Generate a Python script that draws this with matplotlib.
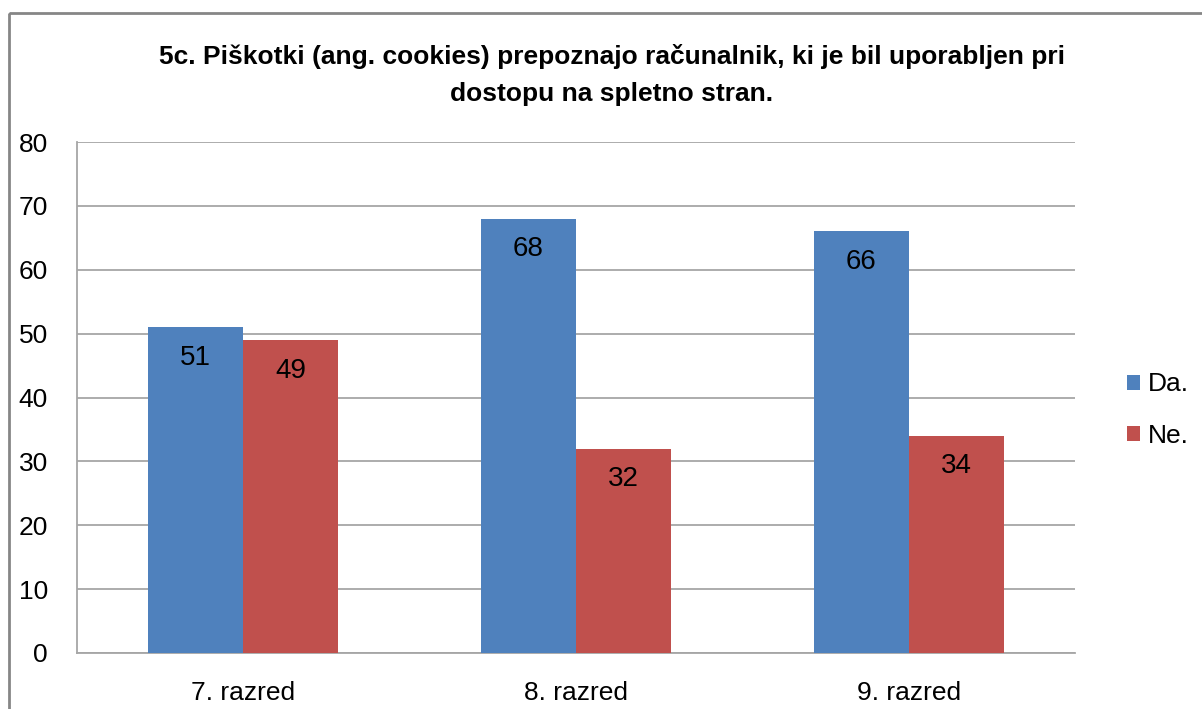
import matplotlib
matplotlib.use('Agg')
import matplotlib.pyplot as plt
from matplotlib.patches import Rectangle
import numpy as np

plt.rcParams['font.family'] = ['Liberation Sans Narrow', 'Liberation Sans', 'DejaVu Sans']

# podatki
razredi = ['7. razred', '8. razred', '9. razred']
da = [51, 68, 66]
ne = [49, 32, 34]
naslov = '5c. Piškotki (ang. cookies) prepoznajo računalnik, ki je bil uporabljen pri\ndostopu na spletno stran.'

W, H = 1202, 709
fig = plt.figure(figsize=(W / 100, H / 100), dpi=100)

# okvir grafikona
fig.patches.append(Rectangle((9 / W, 1 - 13 / H), 1.2, -1.2, transform=fig.transFigure,
                             fill=False, edgecolor='#868686', linewidth=2, zorder=0))

ax = fig.add_axes([77 / W, 1 - 653 / H, (1075 - 77) / W, (653 - 142) / H])

x = np.arange(len(razredi))
w = 1 / 3.5
b1 = ax.bar(x - w / 2, da, w, color='#4F81BD', label='Da.', zorder=3)
b2 = ax.bar(x + w / 2, ne, w, color='#C0504D', label='Ne.', zorder=3)

for bars, vals in [(b1, da), (b2, ne)]:
    for r, v in zip(bars, vals):
        ax.annotate(str(v), (r.get_x() + r.get_width() / 2, v), xytext=(0, -22),
                    textcoords='offset points', ha='center', va='center', fontsize=20)

ax.set_xlim(-0.5, 2.5)
ax.set_ylim(0, 80)
ax.set_yticks(range(0, 81, 10))
ax.set_xticks(x)
ax.set_xticklabels(razredi)
ax.tick_params(axis='both', length=0, labelsize=19)
ax.tick_params(axis='y', pad=21)
ax.tick_params(axis='x', pad=20)
ax.grid(axis='y', color='#A6A6A6', linewidth=1.3, zorder=0)
for s in ['top', 'right']:
    ax.spines[s].set_visible(False)
for s in ['left', 'bottom']:
    ax.spines[s].set_color('#A6A6A6')
    ax.spines[s].set_linewidth(1.3)

fig.text(612 / W, 1 - 75 / H, naslov, ha='center', va='center', fontsize=19,
         fontweight='bold', linespacing=1.7)

ax.legend(loc='center left', bbox_to_anchor=(1.028, 0.475), frameon=False, fontsize=19,
          handlelength=0.5, handleheight=0.5, handletextpad=0.3, labelspacing=1.05)

fig.savefig('out.png', dpi=100)
